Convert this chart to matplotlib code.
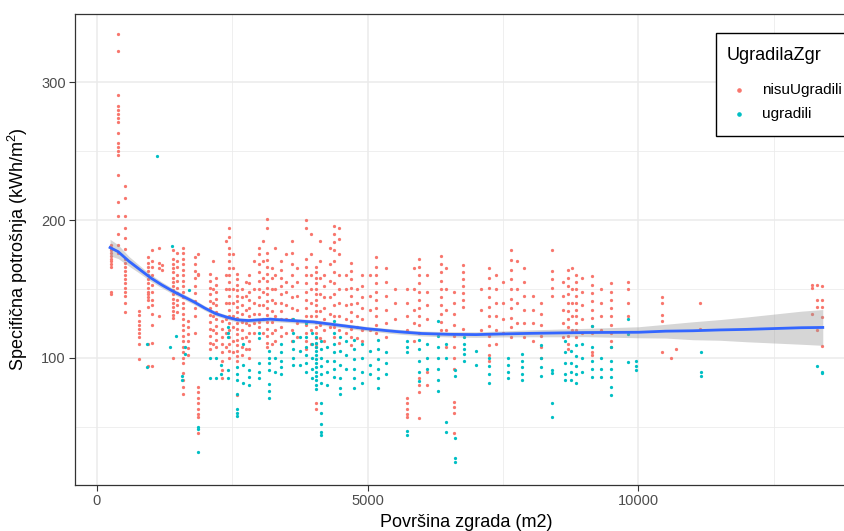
import matplotlib
matplotlib.use("Agg")
import matplotlib.pyplot as plt
from matplotlib.patches import Rectangle
from matplotlib.lines import Line2D
from matplotlib.ticker import MultipleLocator

plt.rcParams['font.family'] = ['Liberation Sans', 'DejaVu Sans']
plt.rcParams['mathtext.fontset'] = 'custom'
plt.rcParams['mathtext.rm'] = 'Liberation Sans'
plt.rcParams['mathtext.it'] = 'Liberation Sans'

# ---------------- data ----------------
legend_title = "UgradilaZgr"
groups = ["nisuUgradili", "ugradili"]
x_label = "Površina zgrada (m2)"
y_label = "Specifična potrošnja (kWh/m$^2$)"

red_col_x = [260, 400, 520, 790, 950, 1030, 1150, 1210, 1420, 1480, 1600, 1690, 1820, 1870,
             2090, 2200, 2315, 2450, 2600, 2680, 2820, 3000, 3150, 3230, 3400, 3600, 3870,
             4050, 4200, 4380, 4480, 4700, 4900, 5150, 5350, 5720, 5950, 6350, 6600, 6760,
             7250, 7380, 7650, 7880, 8200, 8400, 8700, 8850, 9150, 9500, 9800, 10430, 10600,
             10700, 11140, 13200, 13300, 13390,
             2150, 2380, 2520, 2750, 2900, 3080, 3300, 3500, 3700, 3950, 4120, 4300, 4600,
             4800, 5050, 5500, 5850, 6100, 6450, 7100, 7500, 7750, 8050, 8600, 8780, 8950,
             9300]
red_col_y = [
    [182, 180, 178, 176, 174, 172, 170, 168, 166, 148, 146],
    [335, 323, 291, 283, 280, 277, 274, 271, 263, 256, 253, 250, 247, 233, 213, 203, 190, 182, 176],
    [225, 216, 203, 194, 187, 179, 172, 169, 166, 163, 160, 157, 154, 151, 148, 145, 140, 133],
    [134, 131, 127, 124, 121, 118, 115, 110, 99],
    [173, 169, 166, 163, 160, 157, 154, 151, 148, 146, 144, 142, 137, 110, 94],
    [178, 170, 166, 160, 153, 148, 142, 138, 132, 124, 111, 94],
    [180, 169, 165, 130],
    [167, 164],
    [178, 172, 168, 165, 162, 158, 155, 152, 149, 146, 143, 140, 137, 134, 131, 129, 100],
    [176, 170, 166, 160, 156, 151, 147, 142, 138, 133],
    [180, 176, 172, 168, 164, 160, 156, 152, 148, 144, 140, 136, 132, 128, 124, 120, 116, 112,
     108, 104, 100, 96, 89, 84, 79, 74],
    [127, 122, 117, 112, 107, 102],
    [173, 168, 163, 158, 152, 147, 141, 136, 130, 118],
    [175, 161, 160, 79, 75, 71, 67, 63, 59, 57, 45],
    [161, 156, 151, 146, 141, 136, 131, 126, 121, 116, 111, 106],
    [158, 153, 148, 143, 138, 133, 128, 123, 118, 113, 108],
    [127, 121, 115, 110, 104, 98, 91, 85],
    [194, 188, 180, 175, 170, 165, 160, 155, 150, 145, 140, 135, 130, 125, 120, 115, 110, 105, 100],
    [161, 157, 153, 149, 145, 141, 137, 133, 129, 125, 121, 117, 113, 109, 105, 101, 98, 73],
    [150, 144, 138, 132, 126, 120, 114, 108, 102],
    [160, 154, 148, 142, 136, 130, 124, 118, 112, 106, 100],
    [180, 175, 168, 162, 156, 150, 144, 138, 132, 126, 122],
    [201, 194, 176, 171, 166, 161, 156, 151, 146, 141, 136, 131, 126, 121, 116, 111, 108],
    [165, 158, 150, 142, 134, 126, 118, 110],
    [170, 164, 158, 152, 146, 140, 134, 128, 122, 116],
    [185, 176, 168, 160, 152, 144, 136, 128, 120, 112],
    [200, 194, 172, 166, 160, 154, 148, 142, 136, 130, 124, 118, 112, 106],
    [166, 162, 158, 154, 150, 146, 142, 138, 134, 130, 126, 122, 118, 114, 110, 108, 67, 63],
    [160, 152, 144, 136, 128, 120, 112],
    [196, 190, 184, 178, 170, 162, 154, 146, 138, 130, 122, 115],
    [194, 186, 175, 160, 150, 140, 130, 120, 111],
    [169, 163, 157, 151, 145, 139, 133, 127, 121, 115, 109],
    [160, 152, 144, 136, 128, 120, 112],
    [173, 166, 160, 154, 148, 142, 136, 130, 124, 118],
    [165, 155, 145, 135, 125, 115],
    [150, 140, 130, 120, 71, 67, 63, 59, 57],
    [172, 166, 160, 154, 148, 142, 136, 130, 124, 118, 85, 80, 75, 56],
    [174, 168, 162, 156, 150, 144, 138, 132, 126, 120],
    [148, 140, 132, 124, 116, 108, 100, 92, 68, 64, 60, 45],
    [167, 162, 157, 152, 147, 142, 137, 121],
    [165, 158, 151, 144, 137, 130, 123, 116, 109, 102, 98],
    [160, 150, 140, 130, 120, 110],
    [178, 171, 164, 157, 150, 143, 136, 129, 122, 115],
    [165, 155, 145, 135, 125, 115],
    [140, 132, 124, 116, 108, 100],
    [178, 163, 157, 151, 145],
    [164, 158, 152, 146, 140, 134, 128, 122, 116, 110, 106],
    [160, 155, 150, 145, 140, 135, 130, 125, 120, 115],
    [159, 153, 147, 141, 135, 129, 123, 118, 104, 102],
    [154, 148, 142, 136, 130, 124, 118, 112, 108],
    [155, 150, 140, 130],
    [144, 140, 131, 127, 104],
    [100],
    [106],
    [140, 121],
    [153, 151, 132],
    [153, 142, 137, 120],
    [152, 142, 137, 129.5, 108.5],
    [170, 150, 140, 130, 120, 110],
    [185, 160, 150, 140, 128, 118, 108],
    [175, 165, 150, 140, 130, 122, 112, 104],
    [155, 145, 135, 125, 115, 106],
    [170, 150, 140, 132, 125, 118],
    [185, 170, 158, 148, 138, 128, 118],
    [180, 160, 150, 140, 130, 120, 112],
    [175, 155, 148, 138, 128, 118],
    [165, 155, 145, 135, 125, 115],
    [190, 175, 160, 150, 140, 130, 120, 110],
    [185, 170, 158, 146, 134, 124, 114],
    [180, 168, 156, 144, 132, 122],
    [160, 150, 138, 128, 118],
    [150, 140, 130, 122, 114],
    [160, 145, 135, 120],
    [150, 140, 128],
    [165, 150, 135, 125, 112],
    [160, 148, 138, 128, 90, 80],
    [165, 150, 135, 120, 108],
    [150, 135, 120],
    [155, 140, 128, 118],
    [170, 150, 140, 125],
    [145, 135, 125, 112],
    [155, 145, 135, 125, 115],
    [165, 150, 140, 130, 120],
    [158, 148, 138, 128, 118],
    [150, 140, 130, 120],
]

cyan_col_x = [1110, 1390, 930, 1360, 1470, 1580, 1640, 1700, 1870, 2090, 2200, 2420, 2600,
              2820, 3000, 3180, 3400, 3620, 3870, 4050, 4150, 4380, 4500, 4750, 4900, 5200,
              5350, 5720, 5950, 6300, 6450, 6620, 6780, 7250, 7600, 7850, 8200, 8400, 8650,
              8850, 9150, 9500, 9800, 9950, 11150, 13300, 13380,
              2300, 2700, 3300, 3750, 3980, 4250, 4600, 5050, 6100, 7000, 8750, 8950, 9300]
cyan_col_y = [
    [246.5], [181], [110, 93], [108], [116], [87, 84], [108, 103], [149], [50, 48, 31.5],
    [100, 85], [100, 85], [122, 118, 115, 91, 85], [93, 88, 84, 74, 63, 60, 58], [91, 86, 80],
    [118, 114, 96, 90, 85], [105, 100, 96, 91, 81, 76, 71], [110, 104, 98, 93, 88],
    [128, 118, 112, 106, 100, 95], [125, 115, 108, 102, 96, 90],
    [115, 111, 108, 105, 102, 99, 96, 93, 90, 87, 84, 80, 77],
    [112, 106, 100, 94, 88, 82, 67, 60, 52, 46, 44], [127, 118, 110, 104, 98, 92, 86],
    [115, 105, 95, 85, 78, 74], [113, 106, 99, 92, 85, 78], [110, 100, 90, 82],
    [113, 106, 99, 92, 85, 78], [104, 96, 88], [112, 108, 104, 47, 44],
    [113, 106, 98, 90, 83], [127, 116, 108, 100, 92, 84, 76], [110, 100, 53, 46],
    [91, 87, 42, 27, 24], [115, 110, 106, 103, 98], [100, 94, 88, 82], [100, 95, 90, 85],
    [103, 98, 93, 88, 84], [109, 100, 93, 87], [91, 89, 67, 57], [112, 104, 96, 88, 84],
    [109, 101, 94, 88, 82], [123, 108, 98, 92, 86], [108, 98, 92, 86, 79, 73],
    [128, 117, 97], [98, 94, 91], [104, 89.5, 86.5], [94], [89.5, 89],
    [95, 88], [110, 95, 82], [100, 90], [115, 105, 95], [118, 110, 100, 92, 85],
    [108, 98, 90, 80], [112, 102, 92], [105, 95, 88], [110, 100, 92], [105, 95],
    [105, 96, 90, 84], [110, 100, 90], [100, 92, 86],
]

smooth_x = [250, 400, 600, 800, 1000, 1200, 1400, 1600, 1800, 2000, 2200, 2400, 2600, 2800,
            3000, 3200, 3400, 3600, 3800, 4000, 4200, 4400, 4600, 4800, 5000, 5200, 5400,
            5600, 5800, 6000, 6500, 7000, 7500, 8000, 8500, 9000, 9500, 10000, 10500, 11000,
            11500, 12000, 12500, 13000, 13400]
smooth_y = [180, 177, 170, 164, 158, 153, 148.5, 144.5, 140.5, 136, 132, 129.5, 127.5, 127,
            127.5, 128, 127.5, 127, 126.5, 126, 125, 124, 123, 122, 121, 120.3, 119.5, 118.8,
            118.2, 117.6, 117, 116.8, 117.3, 117.7, 118, 118.3, 118.4, 118.5, 119.3, 119.6,
            120.2, 120.6, 121.2, 121.8, 122]
smooth_se = [6, 5, 3.5, 2.8, 2.4, 2.2, 2, 1.9, 1.8, 1.7, 1.6, 1.6, 1.6, 1.6, 1.6, 1.6, 1.6,
             1.6, 1.6, 1.6, 1.6, 1.6, 1.6, 1.6, 1.6, 1.6, 1.7, 1.7, 1.7, 1.8, 1.9, 2, 2.2,
             2.5, 2.8, 3, 3.5, 4, 5, 6.5, 7.5, 9, 10.5, 12, 13]

red_x = [x for x, ys in zip(red_col_x, red_col_y) for _ in ys]
red_y = [y for ys in red_col_y for y in ys]
cyan_x = [x for x, ys in zip(cyan_col_x, cyan_col_y) for _ in ys]
cyan_y = [y for ys in cyan_col_y for y in ys]

RED = '#F8766D'
CYAN = '#00BFC4'

# ---------------- figure ----------------
W, H = 845, 531
fig = plt.figure(figsize=(W / 100, H / 100), dpi=100)
L, R, T, B = 75, 858, 14, 485
ax = fig.add_axes([L / W, 1 - B / H, (R - L) / W, (B - T) / H])

ax.set_xlim(-397, 14050)
ax.set_ylim(7.6, 349.6)

ax.xaxis.set_major_locator(MultipleLocator(5000))
ax.xaxis.set_minor_locator(MultipleLocator(2500))
ax.yaxis.set_major_locator(MultipleLocator(100))
ax.yaxis.set_minor_locator(MultipleLocator(50))
ax.grid(which='major', color='#EBEBEB', lw=1.1, zorder=0)
ax.grid(which='minor', color='#EBEBEB', lw=0.55, zorder=0)
ax.set_axisbelow(True)

ax.scatter(red_x, red_y, s=5.5, marker='o', color=RED, linewidths=0, zorder=2)
ax.scatter(cyan_x, cyan_y, s=5.5, marker='o', color=CYAN, linewidths=0, zorder=2)

lo = [y - s for y, s in zip(smooth_y, smooth_se)]
hi = [y + s for y, s in zip(smooth_y, smooth_se)]
ax.fill_between(smooth_x, lo, hi, color='#999999', alpha=0.4, lw=0, zorder=3)
ax.plot(smooth_x, smooth_y, color='#3366FF', lw=2.0, zorder=4)

for sp in ax.spines.values():
    sp.set_color('#333333')
    sp.set_linewidth(0.9)

ax.tick_params(which='major', length=4, width=0.8, color='#333333',
               labelcolor='#4D4D4D', labelsize=10.5, pad=2.5)
ax.tick_params(which='minor', length=0)

ax.set_xlabel(x_label, fontsize=13, color='black', labelpad=4)
ax.set_ylabel(y_label, fontsize=13, color='black', labelpad=8)

# ---------------- legend (manual, ggplot-like, inside top-right) ----------------
def fx(px):
    return px / W

def fy(py):
    return 1 - py / H

leg_box = Rectangle((fx(716), fy(136)), fx(900) - fx(716), fy(33) - fy(136),
                    transform=fig.transFigure, facecolor='white', edgecolor='black',
                    lw=1.0, zorder=10)
fig.patches.append(leg_box)
fig.text(fx(727), fy(55), legend_title, fontsize=13, va='center', ha='left', zorder=11)
for i, (lab, col) in enumerate(zip(groups, [RED, CYAN])):
    yy = 90 + 24 * i
    fig.lines.append(Line2D([fx(739)], [fy(yy)], marker='o', markersize=2.3, color=col,
                            lw=0, transform=fig.transFigure, zorder=11))
    fig.text(fx(762), fy(yy), lab, fontsize=11, va='center', ha='left', zorder=11)

fig.savefig('out.png', dpi=100)
